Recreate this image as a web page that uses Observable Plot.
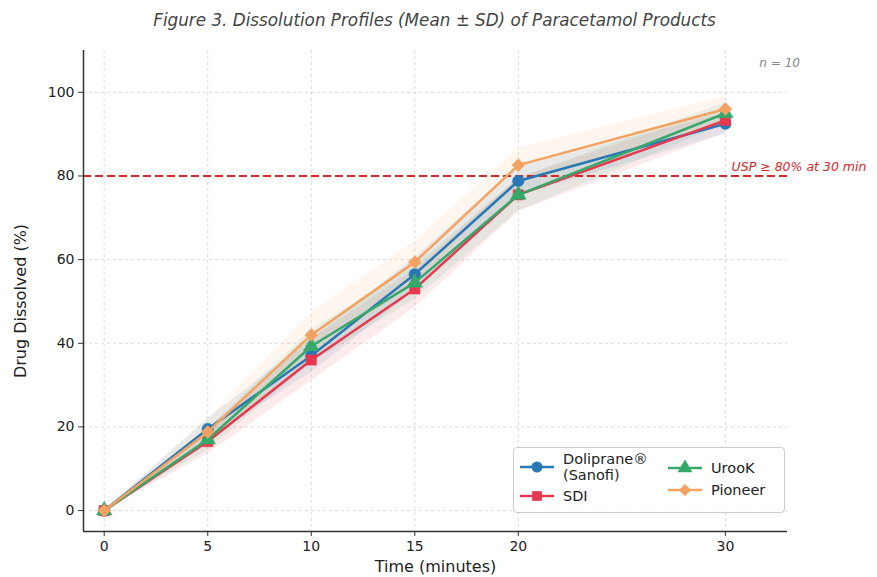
<!DOCTYPE html>
<html>
<head>
<meta charset="utf-8">
<script src="https://cdn.jsdelivr.net/npm/d3@7"></script>
<script src="https://cdn.jsdelivr.net/npm/@observablehq/plot@0.6"></script>
<style>
  body { margin: 0; background: #fff; font-family: "DejaVu Sans", sans-serif; overflow: hidden; }
  #wrap { position: relative; width: 877px; height: 577px; }
  #title { height: 40px; line-height: 40px; text-align: center; font-style: italic; font-size: 16.8px; color: #444; padding-right: 8px; }
  #chart svg { display: block; }
  #legend { position: absolute; left: 513px; top: 447px; width: 270px; height: 64px; border: 1px solid #ccc; border-radius: 4px; background: rgba(255,255,255,0.85); font-size: 14.5px; color: #222; }
  .item { position: absolute; display: flex; align-items: center; }
  .item svg { margin-right: 9px; }
  .lbl { line-height: 16px; }
</style>
</head>
<body>
<div id="wrap">
  <div id="title">Figure 3. Dissolution Profiles (Mean ± SD) of Paracetamol Products</div>
  <div id="chart"></div>
  <div id="legend"></div>
</div>
<script>
const times = [0, 5, 10, 15, 20, 30];
const products = ["Doliprane® (Sanofi)", "SDI", "UrooK", "Pioneer"];
const colors = ["#2878b5", "#e63950", "#35a86a", "#f4a261"];
const symbols = ["circle", "square", "triangle", "diamond2"];
const meanDoliprane = [0, 19.5, 37, 56.5, 78.8, 92.5];
const meanSDI = [0, 16.5, 36, 53, 75.5, 93.3];
const meanUrooK = [0, 17, 39.3, 54.5, 75.5, 95];
const meanPioneer = [0, 18.8, 42, 59.4, 82.6, 96];
const sdDoliprane = [0, 2.5, 4, 4, 3.5, 2.5];
const sdSDI = [0, 3, 5, 4.5, 4, 3];
const sdUrooK = [0, 2.5, 4, 4, 4, 2.5];
const sdPioneer = [0, 3, 5.5, 5, 4, 3];
const yTicks = [0, 20, 40, 60, 80, 100];
const uspLimit = 80;

const means = [meanDoliprane, meanSDI, meanUrooK, meanPioneer];
const sds = [sdDoliprane, sdSDI, sdUrooK, sdPioneer];
const data = [];
products.forEach((p, i) => times.forEach((t, j) => data.push({
  product: p, time: t, mean: means[i][j], lo: means[i][j] - sds[i][j], hi: means[i][j] + sds[i][j]
})));

const font = "DejaVu Sans, sans-serif";
const marks = [
  Plot.gridX(times, {stroke: "#999", strokeOpacity: 0.35, strokeDasharray: "3,3"}),
  Plot.gridY(yTicks, {stroke: "#999", strokeOpacity: 0.35, strokeDasharray: "3,3"}),
];
products.forEach((p, i) => {
  const d = data.filter(r => r.product === p);
  marks.push(Plot.areaY(d, {x: "time", y1: "lo", y2: "hi", fill: colors[i], fillOpacity: 0.1}));
});
marks.push(Plot.ruleY([uspLimit], {stroke: "#d62728", strokeWidth: 2, strokeDasharray: "8,4"}));
products.forEach((p, i) => {
  const d = data.filter(r => r.product === p);
  marks.push(Plot.line(d, {x: "time", y: "mean", stroke: colors[i], strokeWidth: 2.5}));
  marks.push(Plot.dot(d, {x: "time", y: "mean", fill: colors[i], symbol: symbols[i], r: 5.8, stroke: colors[i], strokeWidth: 0.5}));
});
marks.push(
  Plot.ruleX([-1], {stroke: "#333", strokeWidth: 1.5}),
  Plot.ruleY([-5], {stroke: "#333", strokeWidth: 1.5}),
  Plot.axisX({ticks: times, tickSize: 5, tickPadding: 5, fontSize: 14, label: null, stroke: "#333", fill: "#222"}),
  Plot.axisY({ticks: yTicks, tickSize: 5, tickPadding: 4, fontSize: 14, label: null, stroke: "#333", fill: "#222"}),
  Plot.text(["Time (minutes)"], {frameAnchor: "bottom", dy: 40, fontSize: 16, fill: "#222"}),
  Plot.text(["Drug Dissolved (%)"], {frameAnchor: "left", textAnchor: "middle", rotate: -90, dx: -63, dy: 10, fontSize: 16, fill: "#222"}),
  Plot.text(["USP ≥ 80% at 30 min"], {x: 30.3, y: uspLimit, dy: -9, textAnchor: "start", fontSize: 12.5, fontStyle: "italic", fill: "#d62728"}),
  Plot.text(["n = 10"], {x: 33.6, y: 107, textAnchor: "end", fontSize: 12, fontStyle: "italic", fill: "#888"})
);

const chart = Plot.plot({
  width: 877, height: 537,
  marginLeft: 83, marginRight: 90, marginTop: 10, marginBottom: 46,
  style: {fontFamily: font, background: "#fff", overflow: "visible"},
  x: {domain: [-1, 33]},
  y: {domain: [-5, 110]},
  marks
});
document.getElementById("chart").appendChild(chart);

// Legend
const legend = d3.select("#legend");
const pos = [
  {left: 6, top: 3}, {left: 6, top: 40}, {left: 154, top: 12}, {left: 154, top: 34}
];
products.forEach((p, i) => {
  const it = legend.append("div").attr("class", "item").style("left", pos[i].left + "px").style("top", pos[i].top + "px");
  const svg = it.append("svg").attr("width", 34).attr("height", 16);
  svg.append("line").attr("x1", 0).attr("x2", 34).attr("y1", 8).attr("y2", 8).attr("stroke", colors[i]).attr("stroke-width", 2.5);
  const sym = {circle: d3.symbolCircle, square: d3.symbolSquare, triangle: d3.symbolTriangle, diamond2: d3.symbolDiamond2}[symbols[i]];
  svg.append("path").attr("d", d3.symbol(sym, 95)()).attr("transform", "translate(17,8)").attr("fill", colors[i]);
  const lab = it.append("div").attr("class", "lbl");
  if (i === 0) { lab.html("Doliprane®<br>(Sanofi)"); } else { lab.text(p); }
});
</script>
</body>
</html>
